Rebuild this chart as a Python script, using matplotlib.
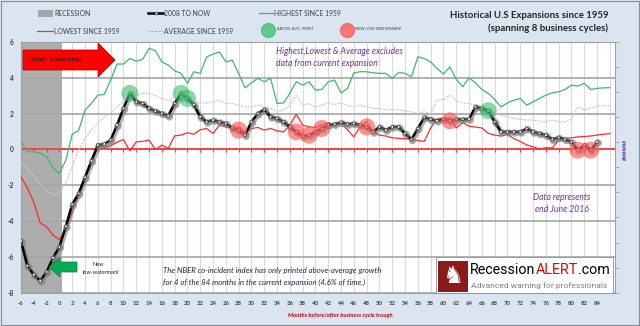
import matplotlib
matplotlib.use('Agg')
import matplotlib.pyplot as plt
import matplotlib.patheffects as pe
from matplotlib.lines import Line2D
from matplotlib.patches import Polygon, Rectangle
from matplotlib import font_manager

plt.rcParams['font.family'] = ['Lato', 'DejaVu Sans']

# months relative to the business cycle trough
months_now = list(range(-6, 85))
now_2008 = [-5.12, -6.5, -7.0, -7.34, -6.84, -6.05, -5.44, -4.3, -3.07, -2.46,
            -1.56, -0.64, 0.24, 0.3, 0.52, 1.36, 2.29, 3.13, 2.66, 2.57,
            2.29, 2.14, 2.01, 1.88, 2.57, 3.13, 2.85, 2.5, 1.82, 1.54,
            1.64, 1.54, 1.45, 1.2, 1.08, 0.8, 1.54, 2.01, 2.23, 1.82,
            1.73, 1.54, 1.26, 0.98, 0.74, 0.8, 0.98, 1.17, 1.36, 1.41,
            1.51, 1.41, 1.45, 1.36, 1.26, 0.98, 1.26, 1.08, 1.26, 1.26,
            0.89, 0.56, 1.17, 1.79, 1.68, 1.6, 1.68, 1.6, 1.68, 1.68,
            1.7, 2.38, 2.29, 2.16, 1.54, 0.98, 0.98, 0.98, 0.98, 1.17,
            0.98, 0.89, 0.8, 0.56, 0.67, 0.56, 0.42, -0.04, 0.24, -0.04,
            0.42]

months_hist = list(range(-6, 87))
highest = [0.43, -0.13, -0.13, -0.2, -0.4, -1.05, -1.34, -0.6, 0.85, 1.05,
           2.2, 2.57, 3.03, 3.07, 3.87, 4.77, 4.77, 5.08, 4.93, 5.03,
           5.64, 5.51, 4.89, 4.71, 4.39, 4.25, 3.69, 4.34, 4.25, 5.17,
           5.32, 5.45, 4.89, 4.99, 4.25, 3.44, 3.72, 3.97, 3.78, 3.97,
           2.57, 2.6, 3.13, 3.78, 3.59, 3.78, 3.31, 3.35, 3.78, 3.87,
           3.16, 3.41, 4.28, 4.34, 4.34, 4.28, 4.25, 4.25, 3.97, 4.3,
           4.25, 4.06, 5.17, 5.08, 4.89, 4.52, 4.21, 4.61, 3.91, 3.5,
           4.0, 3.72, 3.35, 3.13, 2.79, 2.38, 2.6, 2.75, 2.85, 2.47,
           2.66, 2.85, 3.03, 3.16, 3.22, 3.35, 3.59, 3.54, 3.69, 3.35,
           3.41, 3.44, 3.45]
lowest = [-1.53, -2.15, -2.95, -4.1, -4.32, -4.79, -5.03, -4.55, -3.5, -2.6,
          -1.7, -0.69, 0.15, 0.1, 0.2, 0.4, 0.56, -0.08, 0.42, 0.45,
          0.52, 0.0, 0.24, 0.06, 0.76, 0.8, 0.93, 0.85, 1.1, 1.17,
          0.89, 1.36, 1.26, 1.17, 1.26, 0.98, 1.17, 1.23, 1.08, 1.17,
          1.04, 0.98, 1.36, 1.97, 1.36, 1.26, 1.23, 1.36, 1.5, 1.35,
          1.45, 1.1, 0.7, 1.3, 1.55, 1.0, 0.8, 0.75, 0.65, 0.62,
          0.6, 0.55, 0.5, 0.45, 1.2, 1.7, 1.75, 1.76, 1.2, 1.5,
          1.3, 1.25, 1.2, 0.9, 0.8, 0.75, 0.85, 0.6, 0.45, 0.25,
          0.15, 0.02, 0.1, 0.08, 0.5, 0.6, 0.65, 0.7, 0.72, 0.75,
          0.8, 0.85, 0.88]
average = [-0.7, -1.1, -1.5, -1.95, -2.35, -2.52, -2.4, -1.9, -0.95, -0.05,
           0.6, 1.1, 1.5, 1.8, 2.05, 2.35, 2.7, 2.95, 3.0, 3.12,
           3.15, 3.0, 2.85, 2.75, 2.66, 2.75, 2.7, 2.75, 2.6, 2.6,
           2.66, 2.75, 2.57, 2.57, 2.47, 2.38, 2.38, 2.47, 2.38, 2.29,
           2.1, 2.2, 2.47, 3.03, 2.47, 2.57, 2.38, 2.47, 2.6, 2.5,
           2.6, 2.45, 2.4, 2.45, 2.38, 2.29, 2.29, 2.2, 2.23, 2.2,
           2.16, 2.1, 2.01, 2.1, 2.01, 2.75, 2.79, 3.03, 2.75, 2.6,
           2.57, 2.47, 2.38, 2.2, 2.01, 1.92, 1.82, 1.73, 1.68, 1.64,
           1.64, 1.58, 1.54, 1.64, 1.54, 1.54, 1.7, 2.38, 2.2, 2.29,
           2.42, 2.44, 2.45]

above_avg_months = [11, 19, 20, 67]
new_low_months = [28, 37, 39, 41, 48, 61, 81, 83]
x_ticks = list(range(-6, 85, 2))
y_ticks = list(range(-8, 7, 2))

W, H = 640, 326
fig = plt.figure(figsize=(6.4, 3.26), dpi=100, facecolor='#dbe5f1')


def fx(x):
    return x / W


def fy(y):
    return 1 - y / H


ax = fig.add_axes([fx(21), fy(292.7), (615 - 21) / W, (292.7 - 42) / H])
ax.set_xlim(-6, 86.8)
ax.set_ylim(-8, 6)
ax.set_facecolor('white')

for x in range(-6, 87, 2):
    ax.axvline(x, color='#dadada', lw=0.8, zorder=0)
ax.axvspan(-6, 0.4, color='#adadad', zorder=1, lw=0)
for y in y_ticks:
    ax.axhline(y, color='#a6a6a6', lw=1.2, zorder=1.5)

ax.axhline(0, color='#ff3b3b', lw=1.3, zorder=2)
ax.vlines(x_ticks, -0.17, 0, color='#ff3b3b', lw=0.8, zorder=2)

ax.plot(months_hist, average, color='#c8c8c8', lw=0.8, ls=(0, (2, 1)), zorder=3)
ax.plot(months_hist, highest, color='#3cb96a', lw=0.9, zorder=3)
ax.plot(months_hist, lowest, color='#ff2a2a', lw=0.9, zorder=3)
ax.plot(months_now, now_2008, color='black', lw=1.8, marker='o', ms=2.0,
        mfc='white', mec='#333333', mew=0.5, zorder=5,
        path_effects=[pe.SimpleLineShadow(offset=(0.8, -0.8), shadow_color='gray',
                                          alpha=0.6, linewidth=3.4), pe.Normal()])

now_lookup = dict(zip(months_now, now_2008))
ax.scatter(above_avg_months, [now_lookup[m] for m in above_avg_months], s=150,
           color='#3cbf6e', alpha=0.6, edgecolors='none', zorder=6)
ax.scatter(new_low_months, [now_lookup[m] for m in new_low_months], s=150,
           color='#ff5a5a', alpha=0.65, edgecolors='none', zorder=6)

ax.set_xticks(x_ticks)
ax.set_xticklabels([str(v) for v in x_ticks], fontsize=4.3, fontweight='bold', color='#404040')
ax.set_yticks(y_ticks)
ax.set_yticklabels([str(v) for v in y_ticks], fontsize=4.8, fontweight='bold', color='#404040')
ax.tick_params(axis='x', length=0, pad=6)
ax.tick_params(axis='y', length=0, pad=5)
for s in ax.spines.values():
    s.set_color('#a0a0a0')
    s.set_linewidth(0.8)

# secondary axis on the right (labels overflowed in the original)
ax2 = ax.twinx()
ax2.set_ylim(0, 10)
ax2.set_yticks(range(0, 11))
ax2.set_yticklabels([])
ax2.tick_params(axis='y', length=3, color='#a0a0a0', width=0.6)
for s in ax2.spines.values():
    s.set_visible(False)
fig.text(fx(625), fy(150), '########', rotation=90, fontsize=3.3, color='#7030a0',
         ha='center', va='center', fontweight='bold')

# legend
fig.add_artist(Rectangle((fx(38), fy(16.5)), fx(15), 6.5 / H, transform=fig.transFigure,
                         color='#a6a6a6', lw=0))
fig.add_artist(Line2D([fx(148), fx(163)], [fy(13), fy(13)], color='black', lw=1.8))
fig.add_artist(Line2D([fx(155.5)], [fy(13)], marker='o', ms=2.0, mfc='white', mec='#333333',
                      mew=0.5, ls='none'))
fig.add_artist(Line2D([fx(259), fx(273)], [fy(13), fy(13)], color='#3cb96a', lw=0.9))
fig.add_artist(Line2D([fx(37), fx(53)], [fy(31), fy(31)], color='#ff2a2a', lw=0.9))
fig.add_artist(Line2D([fx(148), fx(163)], [fy(31), fy(31)], color='#b0b0b0', lw=0.8, ls=(0, (2, 1))))
fig.add_artist(Line2D([fx(268)], [fy(29.5)], marker='o', ms=10, color='#3cbf6e', alpha=0.75, ls='none'))
fig.add_artist(Line2D([fx(347)], [fy(29.5)], marker='o', ms=10, color='#ff5a5a', alpha=0.8, ls='none'))
leg_kw = dict(fontsize=4.9, color='#404040', va='center')
fig.text(fx(54), fy(13), 'RECESSION', **leg_kw)
fig.text(fx(164), fy(13), '2008 TO NOW', **leg_kw)
fig.text(fx(274), fy(13), 'HIGHEST SINCE 1959', **leg_kw)
fig.text(fx(54), fy(31), 'LOWEST SINCE 1959', **leg_kw)
fig.text(fx(164), fy(31), 'AVERAGE SINCE 1959', **leg_kw)
fig.text(fx(277), fy(29), 'ABOVE AVG. PRINT', fontsize=2.9, color='#404040', va='center')
fig.text(fx(355), fy(29), 'NEW LOW WATERMARK', fontsize=2.9, color='#404040', va='center')

# title
fig.text(fx(608), fy(15), 'Historical U.S Expansions since 1959', ha='right', va='center',
         fontsize=6.9, fontweight='bold', color='#222222')
fig.text(fx(608), fy(28), '(spanning 8 business cycles)', ha='right', va='center',
         fontsize=6.9, fontweight='bold', color='#222222')

# arrows
red_arrow = [(23, 50), (98, 50), (98, 43), (115, 60), (98, 77), (98, 70), (23, 70)]
fig.add_artist(Polygon([(fx(a), fy(b)) for a, b in red_arrow], closed=True,
                       transform=fig.transFigure, fc='#ff0000', ec='#a00000', lw=0.5, zorder=7))
fig.text(fx(28), fy(60), 'Trough Departures', fontsize=4.6, color='#1a1a1a', va='center', zorder=8)

green_arrow = [(49, 267), (60, 257), (60, 262), (77, 262), (77, 272), (60, 272), (60, 277)]
fig.add_artist(Polygon([(fx(a), fy(b)) for a, b in green_arrow], closed=True,
                       transform=fig.transFigure, fc='#00b050', ec='#2e6b3a', lw=0.5, zorder=7))
fig.text(fx(98), fy(264), 'New', fontsize=4.0, color='#262626', ha='center', va='center')
fig.text(fx(101), fy(272), 'low-watermark', fontsize=4.0, color='#262626', ha='center', va='center')

# notes
note_kw = dict(fontsize=6.2, style='italic', color='#7030a0', va='center')
fig.text(fx(276), fy(52), 'Highest,Lowest & Average excludes', **note_kw)
fig.text(fx(276), fy(64), 'data from current expansion', **note_kw)
fig.text(fx(562), fy(198), 'Data represents', ha='center', **note_kw)
fig.text(fx(562), fy(210), 'end June 2016', ha='center', **note_kw)

nber_kw = dict(fontsize=5.6, style='italic', color='#262640', va='center')
fig.text(fx(163), fy(270), 'The NBER co-incident index has only printed above-average growth', **nber_kw)
fig.text(fx(163), fy(282), 'for 4 of the 84 months in the current expansion (4.6% of time.)', **nber_kw)

fig.text(fx(340), fy(316), 'Months before/after business cycle trough', ha='center', va='center',
         fontsize=4.2, style='italic', fontweight='bold', color='#c00000')

# logo box
fig.add_artist(Rectangle((fx(436), fy(293)), fx(613 - 436), 36 / H, transform=fig.transFigure,
                         fc='white', ec='#909090', lw=0.6, zorder=9))
fig.add_artist(Rectangle((fx(438), fy(291.5)), fx(30), 31 / H, transform=fig.transFigure,
                         fc='#8b1a1a', ec='none', zorder=10))
fig.text(fx(453), fy(276), '\u265e', family=['DejaVu Sans'], fontsize=17, color='white',
         ha='center', va='center', zorder=11)

names = {f.name for f in font_manager.fontManager.ttflist}
narrow = 'Liberation Sans Narrow' if 'Liberation Sans Narrow' in names else 'Roboto'
renderer = fig.canvas.get_renderer()


def fit(t, width_px):
    w = t.get_window_extent(renderer).width
    t.set_fontsize(t.get_fontsize() * width_px / w)


parts = [('Recession', 'black'), ('ALERT', '#e00000'), ('.com', 'black')]
texts = []
for s, c in parts:
    texts.append(fig.text(0, fy(270), s, family=[narrow], fontsize=13, color=c, va='center', zorder=11))
total = sum(t.get_window_extent(renderer).width for t in texts)
scale = 139 / total
x0 = 470
for t in texts:
    t.set_fontsize(t.get_fontsize() * scale)
    t.set_x(fx(x0))
    x0 += t.get_window_extent(renderer).width
sub = fig.text(fx(471), fy(285.5), 'Advanced warning for professionals', family=[narrow], fontsize=7,
               color='#7f7f7f', va='center', zorder=11)
fit(sub, 136)

fig.add_artist(Rectangle((0.001, 0.002), 0.997, 0.996, transform=fig.transFigure,
                         fill=False, ec='#8c8c8c', lw=0.8))

fig.savefig('out.png', dpi=100, facecolor=fig.get_facecolor())
